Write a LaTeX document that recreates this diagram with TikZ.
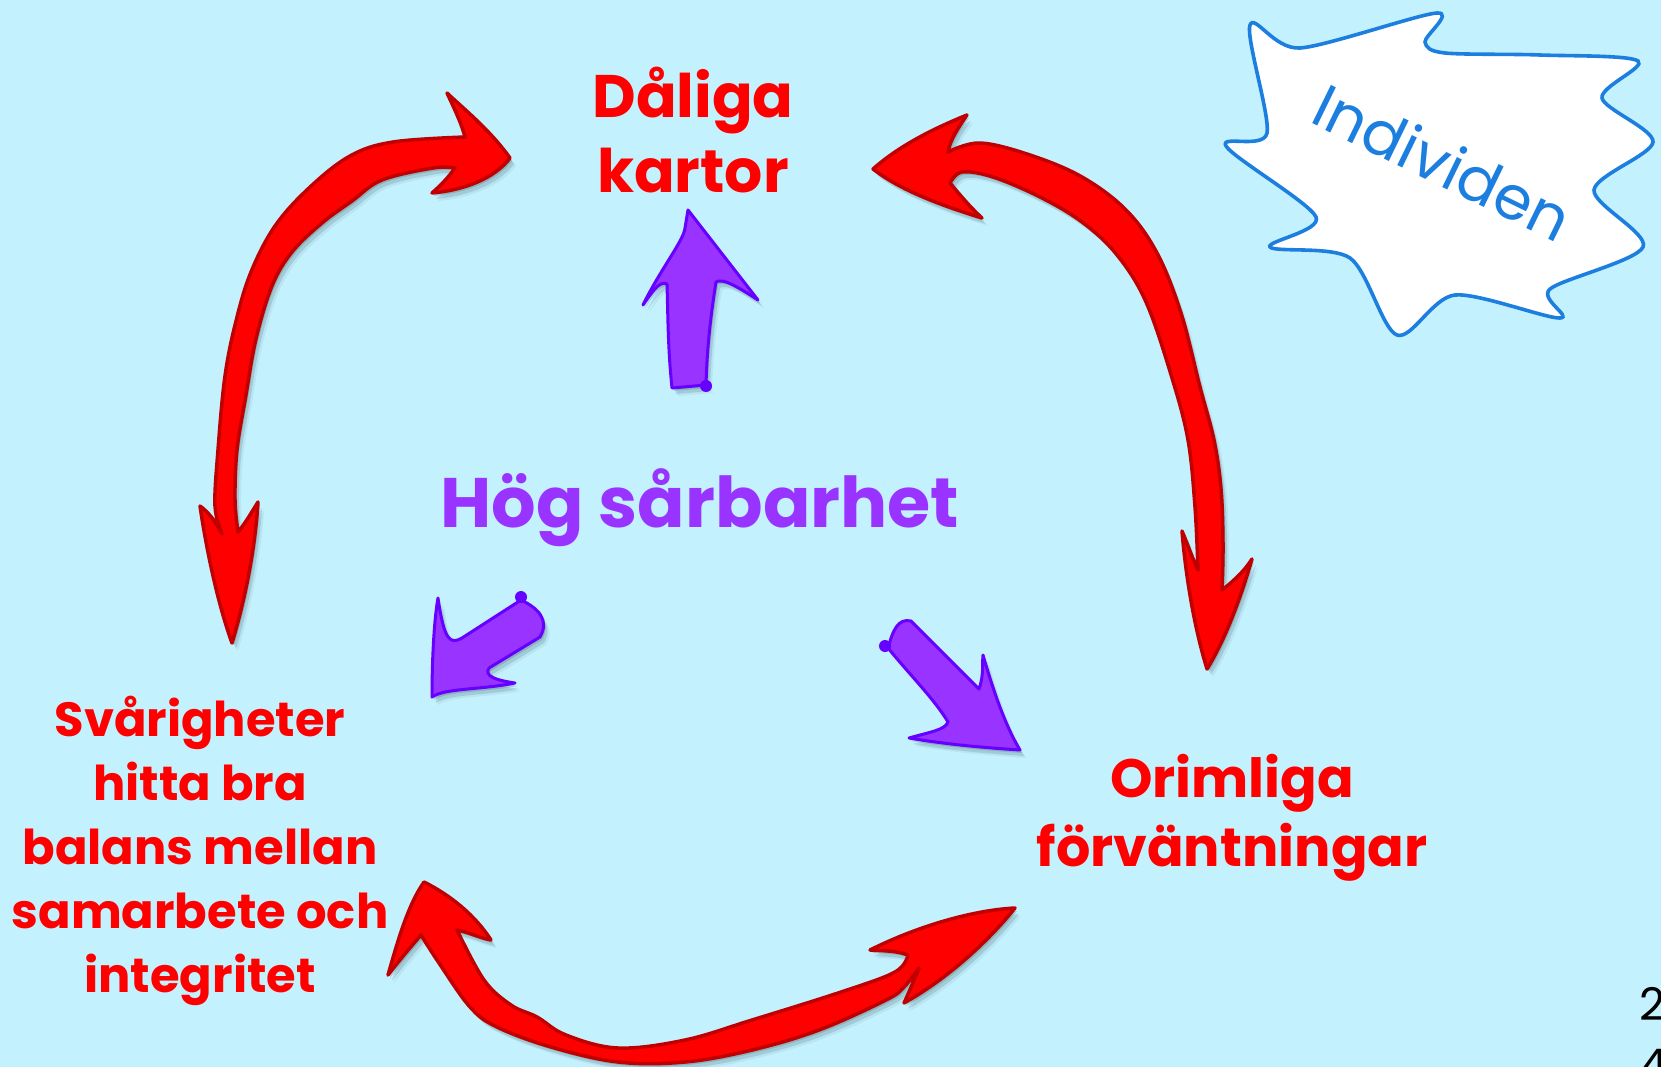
\documentclass[tikz,border=0pt]{standalone}
\usepackage{fontspec}
\setmainfont{Poppins}
\usetikzlibrary{shadows}
\definecolor{bgcyan}{HTML}{C4F1FE}
\definecolor{arrowred}{HTML}{FF0000}
\definecolor{rededge}{HTML}{C00000}
\definecolor{purp}{HTML}{9933FF}
\definecolor{purpedge}{HTML}{6600FF}
\definecolor{burstblue}{HTML}{1C7FE0}
\definecolor{shadowc}{HTML}{3A5A66}
\begin{document}
\begin{tikzpicture}[x=1pt,y=-1pt,
  softshadow/.style={drop shadow={shadow xshift=2pt,shadow yshift=-3pt,fill=shadowc,opacity=0.22},
                     drop shadow={shadow xshift=4pt,shadow yshift=-6pt,fill=shadowc,opacity=0.18},
                     drop shadow={shadow xshift=6pt,shadow yshift=-8pt,fill=shadowc,opacity=0.08}},
  redarrow/.style={fill=arrowred,draw=rededge,line width=3.5pt,line join=round,softshadow},
  purparrow/.style={fill=purp,draw=purpedge,line width=3pt,line join=round,softshadow},
  redlabel/.style={text=arrowred,inner sep=0pt,align=center},
  every node/.style={inner sep=0pt}]

% canvas
\fill[bgcyan] (0,0) rectangle (1661,1067);
\useasboundingbox (0,0) rectangle (1661,1067);

% speech burst
\draw[burstblue,line width=3.6pt,fill=white]
  plot[smooth cycle,tension=0.5] coordinates {
   (1250,25) (1300,48) (1437,13) (1425,42) (1445,53) (1540,55) (1638,61)
   (1602,98) (1653,142) (1594,190) (1643,247) (1550,289) (1560,318)
   (1455,295) (1397,335) (1350,258) (1270,247) (1316,217) (1226,146) (1267,133)};
\node[text=burstblue,rotate=-26,font=\fontsize{61}{63}\selectfont] (indiv) at (1443,162) {Individen};

% text blocks
\node[redlabel,font=\bfseries\fontsize{60}{75}\selectfont] (daliga) at (693,130) {Dåliga\\kartor};
\node[text=purp,anchor=base,font=\bfseries\fontsize{70}{72}\selectfont] (hog) at (700,527) {Hög sårbarhet};
\node[redlabel,font=\bfseries\fontsize{48}{64}\selectfont] (svar) at (200,851) {Svårigheter\\hitta bra\\balans mellan\\samarbete och\\integritet};
\node[redlabel,font=\bfseries\fontsize{54}{69}\selectfont] (orim) at (1232,818) {Orimliga\\förväntningar};
\node[anchor=north west,align=left,font=\fontsize{45}{61}\selectfont] (pagenr) at (1639,987) {2\\4};

% red double arrow: Dåliga kartor <-> Svårigheter
\path[redarrow] (510,158) .. controls (490,130) and (465,110) .. (447,93)
  .. controls (455,110) and (462,125) .. (465,137)
  -- plot[smooth,tension=0.6] coordinates {(465,137) (393,142) (350,156) (309,188) (275,226) (251,272) (236,321) (225,376) (218,450) (215,506) (222,534)}
  .. controls (215,520) and (208,512) .. (200,506)
  .. controls (208,560) and (220,610) .. (232,643)
  .. controls (245,600) and (255,550) .. (258,502)
  .. controls (250,515) and (244,525) .. (238,532)
  -- plot[smooth,tension=0.6] coordinates {(238,532) (235,500) (237,450) (246,395) (256,339) (272,286) (292,252) (322,223) (352,201) (382,180) (433,168) (455,168)}
  .. controls (448,178) and (440,186) .. (432,193)
  .. controls (465,190) and (495,178) .. (510,158) -- cycle;

% red double arrow: Dåliga kartor <-> Orimliga förväntningar
\path[redarrow] (873,169) .. controls (900,145) and (935,128) .. (967,115)
  .. controls (958,128) and (950,140) .. (948,152)
  -- plot[smooth,tension=0.6] coordinates {(948,152) (980,143) (1030,155) (1082,177) (1126,210) (1157,253) (1181,313) (1200,387) (1214,440) (1221,489) (1223,544) (1222,590)}
  .. controls (1235,580) and (1245,570) .. (1252,559)
  .. controls (1240,600) and (1225,640) .. (1207,669)
  .. controls (1195,630) and (1186,580) .. (1182,531)
  .. controls (1188,545) and (1193,560) .. (1198,570)
  -- plot[smooth,tension=0.6] coordinates {(1198,570) (1195,507) (1188,440) (1172,378) (1146,302) (1117,255) (1082,222) (1040,197) (993,177) (962,172) (950,183)}
  .. controls (960,195) and (970,207) .. (982,218)
  .. controls (940,205) and (900,190) .. (873,169) -- cycle;

% red double arrow: Svårigheter <-> Orimliga förväntningar
\path[redarrow] (424,882) .. controls (450,895) and (475,915) .. (491,940)
  .. controls (480,938) and (468,932) .. (457,930)
  -- plot[smooth,tension=0.6] coordinates {(457,930) (484,980) (511,1005) (537,1017) (566,1035) (618,1048) (685,1040) (752,1020) (841,992) (895,972) (908,955)}
  .. controls (895,950) and (880,951) .. (870,950)
  .. controls (920,925) and (975,910) .. (1015,908)
  .. controls (985,945) and (945,980) .. (904,1003)
  .. controls (910,990) and (915,978) .. (919,968)
  -- plot[smooth,tension=0.6] coordinates {(919,968) (904,987) (886,1000) (819,1030) (752,1050) (685,1062) (618,1062) (551,1047) (497,1027) (470,1007) (439,963) (421,935)}
  .. controls (408,950) and (398,962) .. (388,975)
  .. controls (398,940) and (408,905) .. (424,882) -- cycle;

% purple arrow up to Dåliga kartor
\path[purparrow] (688,210) -- (758,300) .. controls (735,285) and (722,278) .. (716,282)
  .. controls (710,320) and (707,350) .. (706,385)
  -- (672,388) .. controls (668,350) and (668,320) .. (667,284)
  .. controls (660,280) and (652,292) .. (643,305)
  .. controls (660,270) and (684,240) .. (685,228) -- cycle;
\fill[purpedge] (706,386) circle (6);

% purple arrow down-left to Svårigheter
\path[purparrow] (432,697) .. controls (432,660) and (434,620) .. (438,598)
  .. controls (444,640) and (450,645) .. (462,638)
  -- (521,600) .. controls (538,608) and (550,620) .. (540,637)
  -- (489,668) .. controls (484,676) and (495,680) .. (515,683)
  .. controls (480,690) and (445,688) .. cycle;
\fill[purpedge] (521,597) circle (6);

% purple arrow down-right to Orimliga förväntningar
\path[purparrow] (888,648) .. controls (893,630) and (898,618) .. (911,621)
  .. controls (935,645) and (960,670) .. (979,689)
  .. controls (984,675) and (982,665) .. (983,655)
  .. controls (993,690) and (1005,725) .. (1020,750)
  .. controls (990,748) and (950,745) .. (909,738)
  .. controls (930,732) and (945,730) .. (948,722)
  .. controls (935,700) and (910,675) .. cycle;
\fill[purpedge] (885,646) circle (6);
\end{tikzpicture}
\end{document}
